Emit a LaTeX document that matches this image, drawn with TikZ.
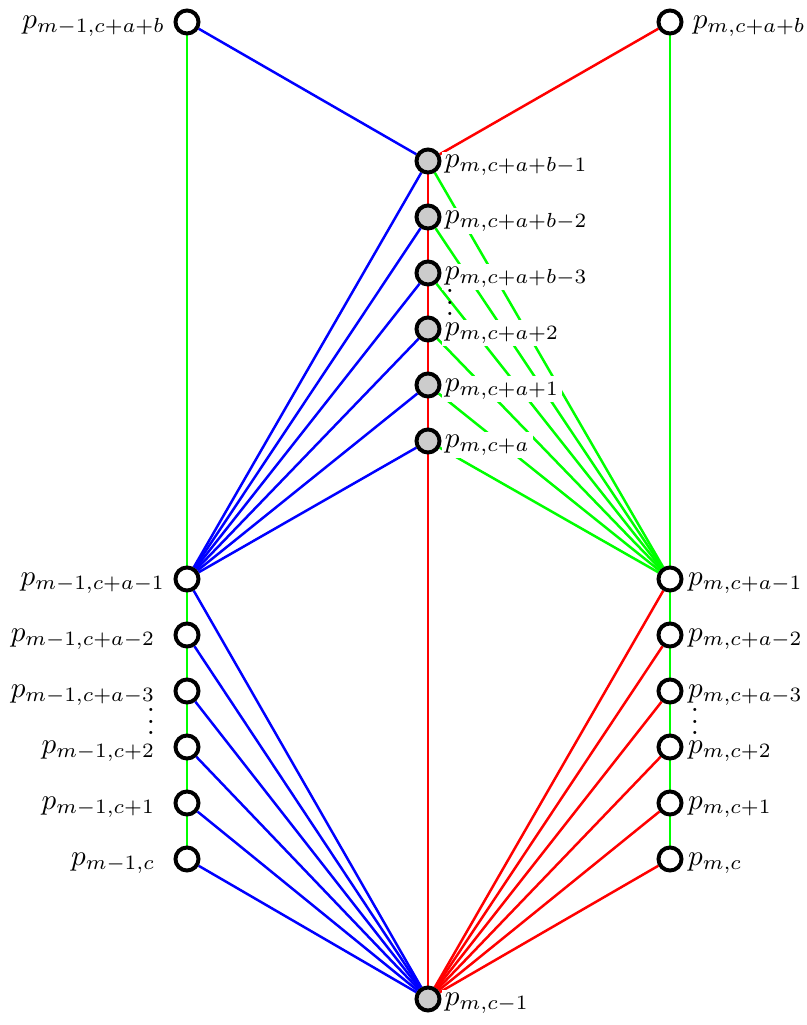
\documentclass[tikz,border=0pt]{standalone}
\usetikzlibrary{backgrounds}
\begin{document}
\begin{tikzpicture}[x=0.343pt, y=-0.343pt,
  vtx/.style={circle, draw=black, line width=1.35pt, fill=white, minimum size=7.9pt, inner sep=0pt},
  mid/.style={vtx, fill=gray!40},
  lab/.style={fill=white, inner sep=1pt, yshift=-1.4pt},
  edge/.style={line width=0.85pt},
  bl/.style={edge, blue},
  rd/.style={edge, red},
  gn/.style={edge, green},
  dots/.style={inner sep=0pt}]
\useasboundingbox (0,0) rectangle (806,1025);

% left column
\node[vtx, label={[lab, label distance=1.7pt]west:$p_{m-1,c+a+b}$}] (L0) at (187,22) {};
\node[vtx, label={[lab, label distance=1.7pt]west:$p_{m-1,c+a-1}$}] (L1) at (187,579) {};
\node[vtx, label={[lab, label distance=5.1pt]west:$p_{m-1,c+a-2}$}] (L2) at (187,635) {};
\node[vtx, label={[lab, label distance=5.1pt]west:$p_{m-1,c+a-3}$}] (L3) at (187,691) {};
\node[vtx, label={[lab, label distance=5.1pt]west:$p_{m-1,c+2}$}] (L4) at (187,747) {};
\node[vtx, label={[lab, label distance=5.1pt]west:$p_{m-1,c+1}$}] (L5) at (187,803) {};
\node[vtx, label={[lab, label distance=5.1pt]west:$p_{m-1,c}$}] (L6) at (187,859) {};

% right column
\node[vtx, label={[lab, label distance=2.0pt]east:$p_{m,c+a+b}$}] (R0) at (670,22) {};
\node[vtx, label={[lab, label distance=0.4pt]east:$p_{m,c+a-1}$}] (R1) at (670,579) {};
\node[vtx, label={[lab, label distance=0.4pt]east:$p_{m,c+a-2}$}] (R2) at (670,635) {};
\node[vtx, label={[lab, label distance=0.4pt]east:$p_{m,c+a-3}$}] (R3) at (670,691) {};
\node[vtx, label={[lab, label distance=0.4pt]east:$p_{m,c+2}$}] (R4) at (670,747) {};
\node[vtx, label={[lab, label distance=0.4pt]east:$p_{m,c+1}$}] (R5) at (670,803) {};
\node[vtx, label={[lab, label distance=0.4pt]east:$p_{m,c}$}] (R6) at (670,859) {};

% middle column
\node[mid, label={[lab, label distance=0pt]east:$p_{m,c+a+b-1}$}] (M1) at (428,161) {};
\node[mid, label={[lab, label distance=0pt]east:$p_{m,c+a+b-2}$}] (M2) at (428,217) {};
\node[mid, label={[lab, label distance=0pt]east:$p_{m,c+a+b-3}$}] (M3) at (428,273) {};
\node[mid, label={[lab, label distance=0pt]east:$p_{m,c+a+2}$}] (M4) at (428,329) {};
\node[mid, label={[lab, label distance=0pt]east:$p_{m,c+a+1}$}] (M5) at (428,385) {};
\node[mid, label={[lab, label distance=0pt]east:$p_{m,c+a}$}] (M6) at (428,441) {};
\node[mid, label={[lab, label distance=0pt]east:$p_{m,c-1}$}] (B) at (428,999) {};

% vertical ellipses
\node[dots] (dm) at (450,294) {$\vdots$};
\node[dots] (dl) at (151,713) {$\vdots$};
\node[dots] (dr) at (695,713) {$\vdots$};

\begin{pgfonlayer}{background}
  % outer verticals
  \draw[gn] (L0) -- (L1) -- (L2) -- (L3) -- (L4) -- (L5) -- (L6);
  \draw[gn] (R0) -- (R1) -- (R2) -- (R3) -- (R4) -- (R5) -- (R6);
  % top links
  \draw[bl] (L0) -- (M1);
  \draw[rd] (R0) -- (M1);
  % middle vertical
  \draw[rd] (M1) -- (M2) -- (M3) -- (M4) -- (M5) -- (M6) -- (B);
  % fans into the middle column
  \foreach \m in {M1,M2,M3,M4,M5,M6} {
    \draw[bl] (L1) -- (\m);
    \draw[gn] (R1) -- (\m);
  }
  % fans into the bottom vertex
  \foreach \l in {L1,L2,L3,L4,L5,L6} \draw[bl] (\l) -- (B);
  \foreach \r in {R1,R2,R3,R4,R5,R6} \draw[rd] (\r) -- (B);
\end{pgfonlayer}
\end{tikzpicture}
\end{document}
